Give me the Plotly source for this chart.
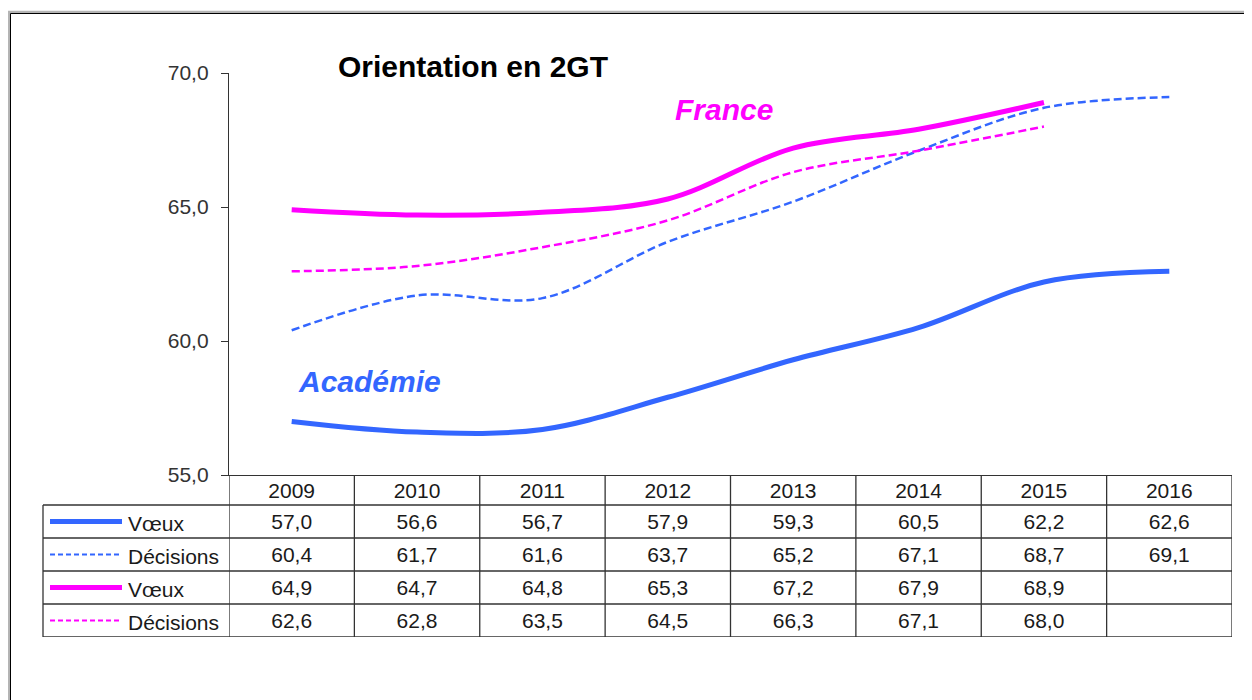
import plotly.graph_objects as go

# ---------------- data ----------------
years = [2009, 2010, 2011, 2012, 2013, 2014, 2015, 2016]
academie_voeux = [57.0, 56.6, 56.7, 57.9, 59.3, 60.5, 62.2, 62.6]
academie_decisions = [60.4, 61.7, 61.6, 63.7, 65.2, 67.1, 68.7, 69.1]
france_voeux = [64.9, 64.7, 64.8, 65.3, 67.2, 67.9, 68.9, None]
france_decisions = [62.6, 62.8, 63.5, 64.5, 66.3, 67.1, 68.0, None]
row_labels = ["Vœux", "Décisions", "Vœux", "Décisions"]
y_ticks = [55, 60, 65, 70]
title_text = "Orientation en 2GT"

# ---------------- layout constants ----------------
OFF = 8                      # page body margin of the browser
W, H = 1252 - OFF, 700 - OFF
# screen positions (reference pixels)
SL, SR, ST, SB = 229, 1232, 73, 637
L, R, T, B = SL - OFF, SR - OFF, ST - OFF, SB - OFF
BLUE = "#3366FF"
MAG = "#FF00FF"
FONT = "Liberation Sans, Arial, sans-serif"
TXT = "#1a1a1a"

def px(x):
    return (x - SL) / (SR - SL)

def py(y):
    return (SB - y) / (SB - ST)

split = py(475)          # bottom of chart / top of table header
hdr = 30 / 33            # header height in row units
tshift = 0.06            # small downward text nudge in table rows

series = [
    (academie_voeux, BLUE, 5, "solid"),
    (academie_decisions, BLUE, 2.5, "8px,4px"),
    (france_voeux, MAG, 5, "solid"),
    (france_decisions, MAG, 2.5, "8px,4px"),
]

fig = go.Figure()
for vals, col, w, dash in series:
    fig.add_trace(go.Scatter(
        x=years, y=vals, mode="lines",
        line=dict(color=col, width=w, dash=dash, shape="spline", smoothing=1.0),
        hoverinfo="skip", showlegend=False, xaxis="x", yaxis="y",
    ))

def fmt(v):
    return "" if v is None else f"{v:.1f}".replace(".", ",")

# table texts
tx, ty, tt = [], [], []
for yr in years:
    tx.append(yr); ty.append(hdr / 2 - 0.08); tt.append(str(yr))
for i, (vals, _, _, _) in enumerate(series):
    for yr, v in zip(years, vals):
        tx.append(yr); ty.append(-i - 0.5 - tshift); tt.append(fmt(v))
fig.add_trace(go.Scatter(
    x=tx, y=ty, text=tt, mode="text", textposition="middle center",
    textfont=dict(family=FONT, size=21, color=TXT),
    hoverinfo="skip", showlegend=False, xaxis="x", yaxis="y2",
))

shapes = []
# outer frame
shapes.append(dict(type="rect", xref="paper", yref="paper",
                   x0=px(9), x1=px(1275), y0=py(12), y1=py(720),
                   line=dict(color="#b4b4b4", width=2.5), layer="below"))
shapes.append(dict(type="rect", xref="paper", yref="paper",
                   x0=px(10.5), x1=px(1275), y0=py(13.5), y1=py(720),
                   line=dict(color="#000000", width=1), layer="below"))

grid = dict(color="#333333", width=1.3)
# vertical table lines
for k in range(len(years) + 1):
    xv = years[0] - 0.5 + k
    shapes.append(dict(type="line", xref="x", yref="y2", x0=xv, x1=xv,
                       y0=-4, y1=hdr, line=grid))
# left border of label column
shapes.append(dict(type="line", xref="paper", yref="y2", x0=px(43), x1=px(43),
                   y0=-4, y1=0, line=grid))
# horizontal lines
for r in range(5):
    shapes.append(dict(type="line", xref="paper", yref="y2", x0=px(43), x1=1,
                       y0=-r, y1=-r, line=grid))

# legend samples in label column
annotations = []
for i, (vals, col, w, dash) in enumerate(series):
    solid = dash == "solid"
    shapes.append(dict(type="line", xref="paper", yref="y2",
                       x0=px(50), x1=px(122), y0=-i - 0.5, y1=-i - 0.5,
                       line=dict(color=col, width=5 if solid else 2,
                                 dash="solid" if solid else "5px,3px")))
    annotations.append(dict(text=row_labels[i], xref="paper", yref="y2",
                            x=px(126), y=-i - 0.5 - tshift, xanchor="left",
                            yanchor="middle", showarrow=False,
                            font=dict(family=FONT, size=21, color=TXT)))

annotations.append(dict(text="<b>" + title_text + "</b>", xref="paper", yref="paper",
                        x=px(473), y=py(67), xanchor="center", yanchor="middle",
                        showarrow=False, font=dict(family=FONT, size=30, color="#000")))
annotations.append(dict(text="<b><i>France</i></b>", xref="paper", yref="paper",
                        x=px(724), y=py(110), xanchor="center", yanchor="middle",
                        showarrow=False, font=dict(family=FONT, size=30, color=MAG)))
annotations.append(dict(text="<b><i>Académie</i></b>", xref="paper", yref="paper",
                        x=px(369), y=py(381), xanchor="center", yanchor="middle",
                        showarrow=False, font=dict(family=FONT, size=30, color=BLUE)))

fig.update_layout(
    width=W, height=H,
    margin=dict(l=L, r=W - R, t=T, b=H - B, pad=0),
    paper_bgcolor="white", plot_bgcolor="white",
    separators=", ",
    font=dict(family=FONT, color=TXT),
    xaxis=dict(range=[years[0] - 0.5, years[-1] + 0.5], showticklabels=False,
               ticks="", showgrid=False, zeroline=False, showline=True,
               linecolor="#333333", linewidth=1.3, anchor="y", fixedrange=True),
    yaxis=dict(domain=[split, 1], range=[y_ticks[0], y_ticks[-1]], tickvals=y_ticks,
               tickformat=".1f", ticks="outside", ticklen=7, tickcolor="#333333",
               tickwidth=1.3, showline=True, linecolor="#333333", linewidth=1.3,
               showgrid=False, zeroline=False, ticklabelstandoff=8,
               tickfont=dict(family=FONT, size=21, color="#333333"), fixedrange=True),
    yaxis2=dict(domain=[0, split], range=[-4, hdr], visible=False, fixedrange=True),
    shapes=shapes, annotations=annotations, showlegend=False,
)

fig.write_html("out.html")
